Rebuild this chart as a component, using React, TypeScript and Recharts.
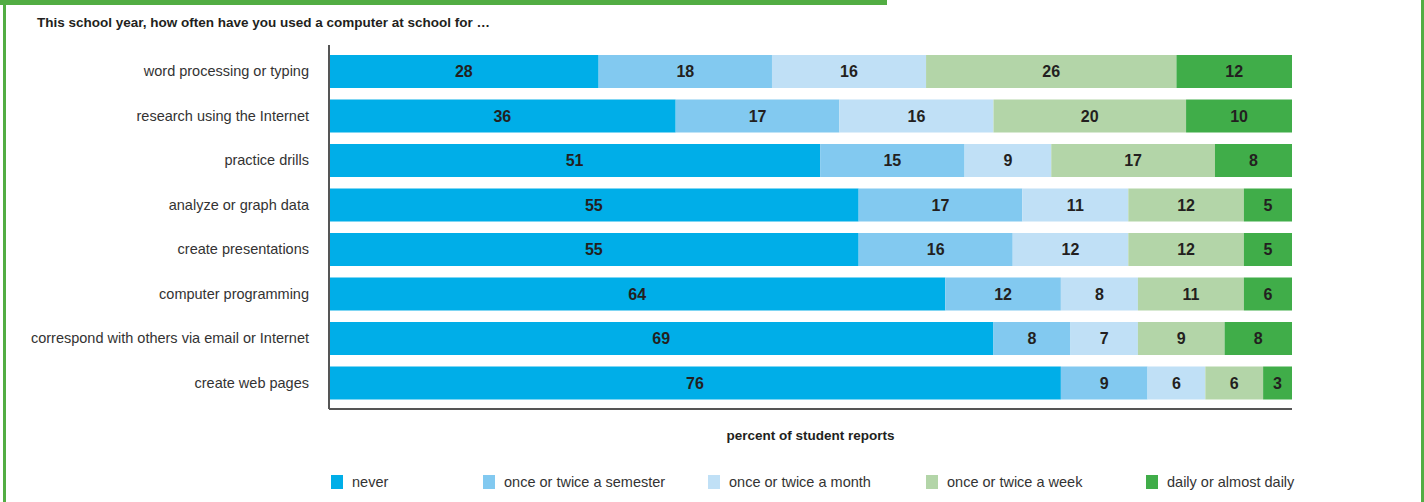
import React from "react";
import { BarChart, Bar, XAxis, YAxis, LabelList } from "recharts";

const activities = [
  "word processing or typing",
  "research using the Internet",
  "practice drills",
  "analyze or graph data",
  "create presentations",
  "computer programming",
  "correspond with others via email or Internet",
  "create web pages",
];

const never = [28, 36, 51, 55, 55, 64, 69, 76];
const semester = [18, 17, 15, 17, 16, 12, 8, 9];
const month = [16, 16, 9, 11, 12, 8, 7, 6];
const week = [26, 20, 17, 12, 12, 11, 9, 6];
// widths of the last segment as drawn; its printed numbers differ on some rows
const daily = [12, 11, 8, 5, 5, 5, 7, 3];
const dailyLabels = [12, 10, 8, 5, 5, 6, 8, 3];

const series = [
  { key: "never", name: "never", color: "#00aee8" },
  { key: "semester", name: "once or twice a semester", color: "#82c9f0" },
  { key: "month", name: "once or twice a month", color: "#c0e0f6" },
  { key: "week", name: "once or twice a week", color: "#b3d5a8" },
  { key: "daily", name: "daily or almost daily", color: "#40ad49" },
];

const legendX = [331, 483, 708, 926, 1146];

const data = activities.map((activity, i) => ({
  activity,
  never: never[i],
  semester: semester[i],
  month: month[i],
  week: week[i],
  daily: daily[i],
  dailyLabel: dailyLabels[i],
}));

const FONT = "'Liberation Sans Narrow', 'Arial Narrow', 'Liberation Sans', sans-serif";
const GREEN = "#52ad43";

export default function App() {
  return (
    <div
      style={{
        position: "absolute",
        left: 0,
        top: 0,
        width: 1424,
        height: 502,
        background: "#fff",
        fontFamily: FONT,
        overflow: "hidden",
      }}
    >
      {/* frame */}
      <div style={{ position: "absolute", left: 0, top: 0, width: 887, height: 5, background: GREEN }} />
      <div style={{ position: "absolute", left: 3, top: 0, width: 3, height: 502, background: GREEN }} />
      <div style={{ position: "absolute", left: 1421, top: 0, width: 3, height: 502, background: GREEN }} />

      <div
        style={{
          position: "absolute",
          left: 37,
          top: 15,
          fontSize: 13.5,
          fontWeight: "bold",
          color: "#231f20",
          whiteSpace: "nowrap",
        }}
      >
        This school year, how often have you used a computer at school for …
      </div>

      <BarChart
        width={1424}
        height={502}
        data={data}
        layout="vertical"
        margin={{ top: 45, right: 132, bottom: 92, left: 0 }}
        barSize={33}
        style={{ position: "absolute", left: 0, top: 0, fontFamily: FONT }}
      >
        <XAxis
          type="number"
          domain={[0, 100]}
          height={1}
          tick={false}
          tickLine={false}
          axisLine={{ stroke: "#555", strokeWidth: 2 }}
        />
        <YAxis
          type="category"
          dataKey="activity"
          width={329}
          tickLine={false}
          tickMargin={14}
          padding={{ top: 4, bottom: 4 }}
          axisLine={{ stroke: "#555", strokeWidth: 2 }}
          tick={{ fontSize: 14.5, fill: "#333", fontFamily: FONT }}
        />
        {series.map((s) => (
          <Bar
            key={s.key}
            dataKey={s.key}
            name={s.name}
            stackId="a"
            fill={s.color}
            isAnimationActive={false}
          >
            <LabelList
              dataKey={s.key === "daily" ? "dailyLabel" : s.key}
              position="center"
              fill="#231f20"
              fontSize={16}
              fontWeight="bold"
              fontFamily={FONT}
            />
          </Bar>
        ))}
      </BarChart>

      <div
        style={{
          position: "absolute",
          left: 329,
          width: 963,
          top: 428,
          textAlign: "center",
          fontSize: 13.5,
          fontWeight: "bold",
          color: "#231f20",
        }}
      >
        percent of student reports
      </div>

      {series.map((s, i) => (
        <div
          key={s.key}
          style={{
            position: "absolute",
            left: legendX[i],
            top: 474,
            display: "flex",
            alignItems: "center",
            whiteSpace: "nowrap",
          }}
        >
          <span style={{ display: "inline-block", width: 12, height: 14, background: s.color }} />
          <span style={{ marginLeft: 9, fontSize: 14.5, color: "#333" }}>{s.name}</span>
        </div>
      ))}
    </div>
  );
}
